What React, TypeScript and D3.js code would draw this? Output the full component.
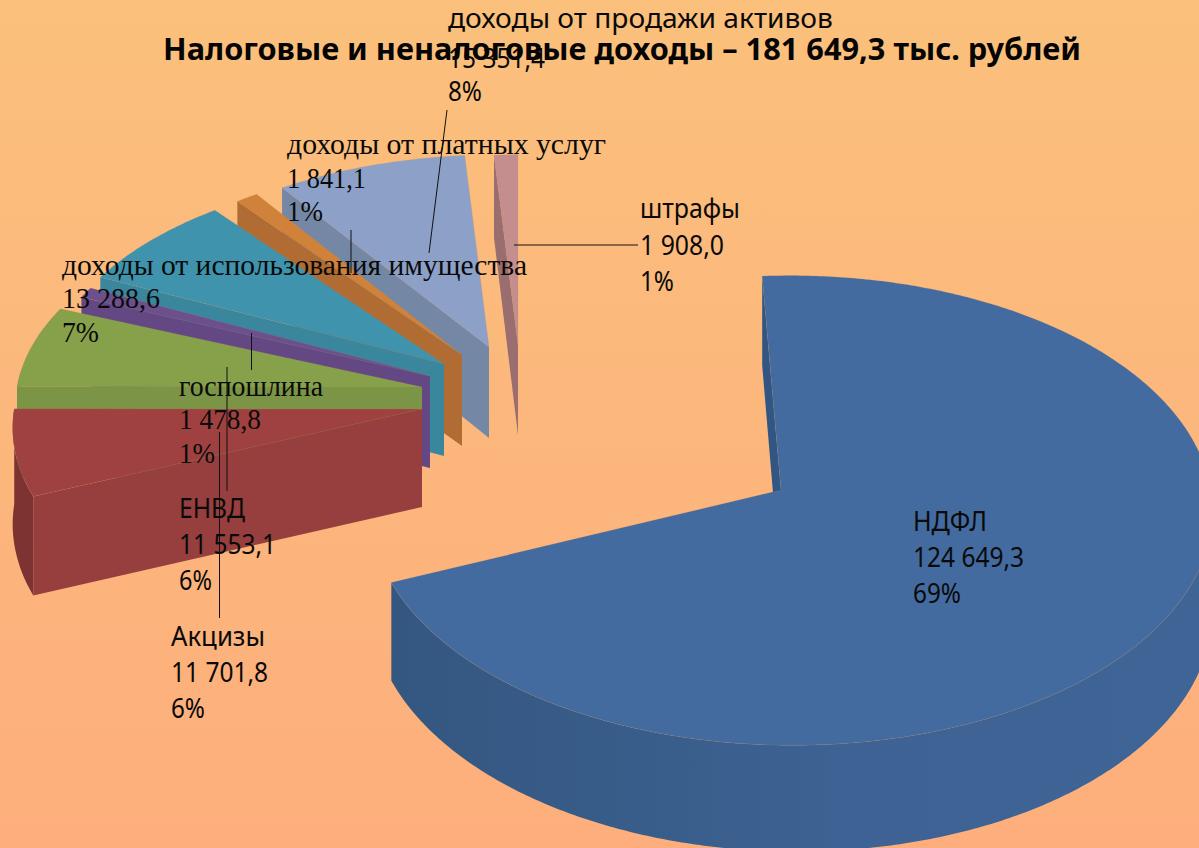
import React from "react";
import * as d3 from "d3";

// values in the order of the pie, clockwise from 12 o'clock
const categories = ["НДФЛ", "Акцизы", "ЕНВД", "госпошлина", "доходы от использования имущества", "доходы от платных услуг", "доходы от продажи активов", "штрафы"];
const values = [124649.3, 11701.8, 11553.1, 1478.8, 13288.6, 1841.1, 15351.4, 1908.0];
const valueLabels = ["124 649,3", "11 701,8", "11 553,1", "1 478,8", "13 288,6", "1 841,1", "15 351,4", "1 908,0"];
const percentLabels = ["69%", "6%", "6%", "1%", "7%", "1%", "8%", "1%"];
const title = "Налоговые и неналоговые доходы – 181 649,3 тыс. рублей";

// exploded slices: each has its own apex and radii on the page
const apexX = [781, 422, 422, 430, 444, 462, 489, 518];
const apexY = [490, 409, 387, 376, 364, 355, 347, 345];
const radiusX = [419, 418, 415, 400, 405, 397, 400, 396];
const radiusY = [233, 220, 212, 214, 211, 211, 209, 207];
const depth = [97, 98, 93, 92, 92, 91, 91, 90];
const topColors = ["#436b9f", "#9f4140", "#87a14b", "#6d4f8c", "#3f93ac", "#d0823a", "#8da1c8", "#c58e8e"];
const wallColors = ["#315683", "#973e3e", "#7b9445", "#644883", "#3a869c", "#b06c32", "#7488a6", "#9a6e6e"];
const rimColors = ["url(#blueRim)", "#7d3332", "#7b9445", "#644883", "#3a869c", "#b06c32", "#7488a6", "#9a6e6e"];
const startShift = [-2.8, 0, 0, 0, 0, 0, 0, 0];

// perspective of the ground plane
const backK = 0.087;
const sideK = 0.025;

const SANS = "'Noto Sans', sans-serif";
const SERIF = "'Liberation Serif', serif";

// label blocks: font, x, the three baselines, and measured line widths
const labelFonts = [SANS, SANS, SANS, SERIF, SERIF, SERIF, SANS, SANS];
const labelX = [913, 171, 179, 179, 62, 287, 448, 640];
const labelY = [[531, 567, 603], [646, 682, 718], [518, 554, 590], [396, 429, 463], [275, 308, 342], [154, 188, 221], [28, 68, 101], [218, 255, 291]];
const labelW = [[74, 111, 48], [94, 97, 34], [66, 97, 33], [144, 82, 36], [465, 98, 37], [319, 79, 36], [385, 97, 34], [100, 84, 34]];

// leader lines [x1, y1, x2, y2], index as in categories
const leaders: (number[] | null)[] = [
  null,
  [219.5, 432, 219.5, 618],
  [227, 367, 227, 491],
  [251.5, 333, 251.5, 370],
  null,
  [351, 230, 351, 273],
  [447, 110, 429, 253],
  [514, 245, 638, 245],
];

const WIDTH = 1199;
const HEIGHT = 848;
const rad = Math.PI / 180;

const project = (i: number, angle: number, drop = 0): [number, number] => {
  const X = Math.sin(angle);
  const Y = Math.cos(angle);
  const w = 1 + backK * Y - sideK * X;
  return [apexX[i] + (radiusX[i] * X) / w, apexY[i] - (radiusY[i] * Y) / w + drop / w];
};

const line = d3.line();

export default function App() {
  const arcs = d3.pie<number>().sort(null)(values);

  const slices = arcs.map((a, i) => {
    const start = a.startAngle + startShift[i] * rad;
    const end = a.endAngle;
    const angles = [...d3.range(start, end, 0.01), end];
    const apex: [number, number] = [apexX[i], apexY[i]];
    const apexLow: [number, number] = [apexX[i], apexY[i] + depth[i]];
    const top = line([apex, ...angles.map((t) => project(i, t))]) + "Z";
    // radial wall on the start edge
    const wall = line([apex, project(i, start), project(i, start, depth[i]), apexLow]) + "Z";
    // outer wall, only the part that faces the viewer
    const front = angles.filter((t) => Math.cos(t) < 0.1);
    const rim = front.length
      ? line([...front.map((t) => project(i, t)), ...front.slice().reverse().map((t) => project(i, t, depth[i]))]) + "Z"
      : null;
    return { i, top, wall, rim };
  });

  return (
    <svg width={WIDTH} height={HEIGHT} style={{ position: "absolute", left: 0, top: 0 }}>
      <defs>
        <linearGradient id="bg" x1="0" y1="0" x2="0" y2="1">
          <stop offset="0" stopColor="#fbc07c" />
          <stop offset="1" stopColor="#fdae7c" />
        </linearGradient>
        <linearGradient id="blueRim" gradientUnits="userSpaceOnUse" x1="390" y1="0" x2="1199" y2="0">
          <stop offset="0" stopColor="#335780" />
          <stop offset="0.25" stopColor="#385c88" />
          <stop offset="0.55" stopColor="#3d6293" />
          <stop offset="1" stopColor="#3f6596" />
        </linearGradient>
      </defs>
      <rect width={WIDTH} height={HEIGHT} fill="url(#bg)" />

      {slices.slice().reverse().map((s) => (
        <g key={categories[s.i]}>
          {s.rim && <path d={s.rim} fill={rimColors[s.i]} />}
          <path d={s.wall} fill={wallColors[s.i]} />
          <path d={s.top} fill={topColors[s.i]} stroke="#b08a6c" strokeOpacity={0.2} strokeWidth={0.8} />
        </g>
      ))}

      {leaders.map((l, i) =>
        l ? <line key={i} x1={l[0]} y1={l[1]} x2={l[2]} y2={l[3]} stroke="#111" strokeWidth={1} /> : null
      )}

      {categories.map((name, i) =>
        [name, valueLabels[i], percentLabels[i]].map((t, k) => (
          <text
            key={i + "-" + k}
            x={labelX[i]}
            y={labelY[i][k]}
            fontFamily={labelFonts[i]}
            fontSize={labelFonts[i] === SERIF ? 29 : 27}
            textLength={labelW[i][k]}
            lengthAdjust="spacingAndGlyphs"
            fill="#0a0a0a"
          >
            {t}
          </text>
        ))
      )}

      <text x={163} y={60} fontFamily={SANS} fontWeight={700} fontSize={31} textLength={918} lengthAdjust="spacingAndGlyphs" fill="#050505">
        {title}
      </text>
    </svg>
  );
}
